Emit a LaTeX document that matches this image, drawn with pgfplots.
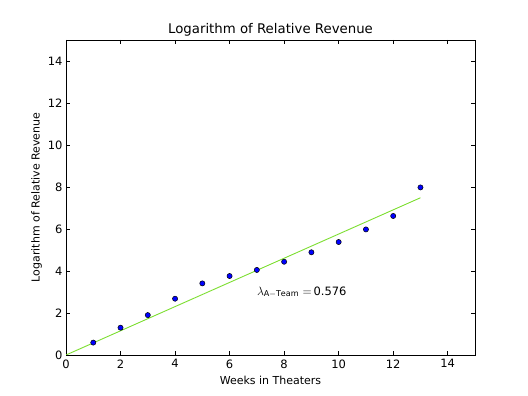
\documentclass[border=0pt]{standalone}
\usepackage{pgfplots}
\pgfplotsset{compat=1.18}
\usepackage{fontspec}
\setmainfont{DejaVu Sans}
\definecolor{fitgreen}{RGB}{124,222,48}
\begin{document}
\begin{tikzpicture}
\path[use as bounding box] (0,0) rectangle (528pt,396pt);
\begin{axis}[
  at={(66pt,41pt)}, anchor=south west,
  scale only axis, width=409pt, height=315pt,
  xmin=0, xmax=15, ymin=0, ymax=15,
  xtick={0,2,...,14}, ytick={0,2,...,14},
  tick align=inside,
  major tick length=4pt,
  tick style={black, line width=0.6pt},
  axis line style={black, line width=0.8pt},
  /pgf/number format/assume math mode=true,
  tick label style={font=\fontsize{11.5}{13}\selectfont},
  xticklabel style={yshift=-1pt},
  title={Logarithm of Relative Revenue},
  title style={font=\fontsize{13.3}{15}\selectfont, yshift=-6pt},
  xlabel={Weeks in Theaters},
  ylabel={Logarithm of Relative Revenue},
  label style={font=\fontsize{11}{13}\selectfont},
  xlabel style={yshift=-1pt},
  ylabel style={yshift=-1pt},
]
\addplot[fitgreen, line width=0.9pt, no marks] coordinates {(0,0) (13,7.488)};
\addplot[only marks, mark=*, mark size=2.6pt, mark options={fill=blue, draw=black, line width=0.5pt}] coordinates {
(1,0.59) (2,1.30) (3,1.90) (4,2.68) (5,3.41) (6,3.76) (7,4.05)
(8,4.44) (9,4.89) (10,5.38) (11,5.98) (12,6.62) (13,7.98)
};
\node[anchor=base west, font=\fontsize{11.5}{13}\selectfont, inner sep=0pt] at (axis cs:7,2.85) {$\lambda_{\mathrm{A-Team}}=$\,0.576};
\end{axis}
\end{tikzpicture}
\end{document}
